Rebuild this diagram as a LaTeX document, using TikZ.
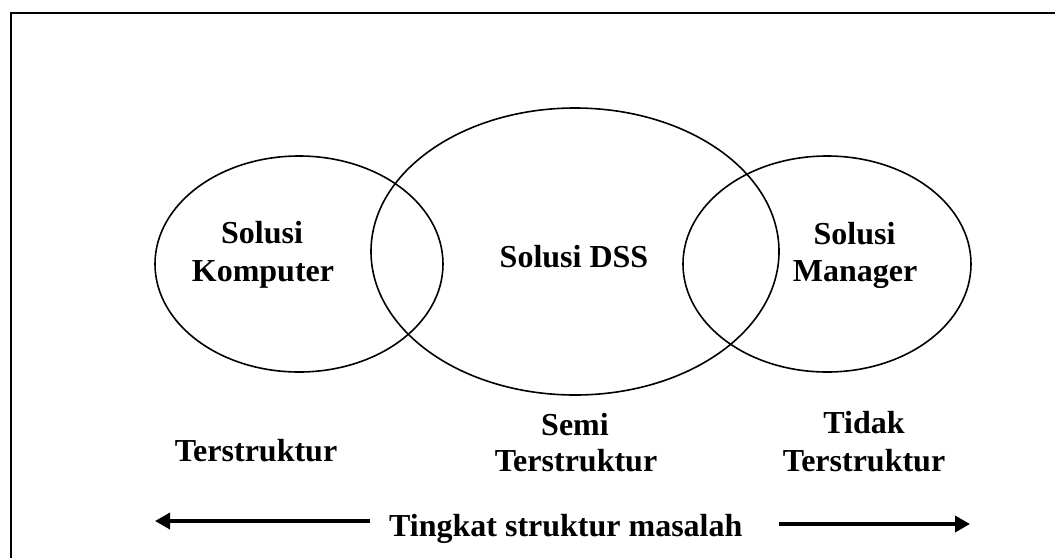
\documentclass[tikz,border=0pt]{standalone}
\usepackage{fontspec}
\setmainfont{Liberation Serif}
\usetikzlibrary{shapes.geometric,arrows.meta}
\begin{document}
\begin{tikzpicture}[x=1pt,y=-1pt,
  oval/.style={draw,ellipse,line width=1.6pt,inner sep=0pt},
  lbl/.style={font=\bfseries\fontsize{32}{38.4}\selectfont,inner sep=0pt,anchor=base},
  bigarrow/.style={line width=3.5pt,-{Triangle[length=15pt,width=16pt]}}]
\useasboundingbox (0,0) rectangle (1055,558);
\coordinate (fbl) at (11,558);
\coordinate (ftl) at (11,13);
\coordinate (ftr) at (1055,13);
\draw[line width=2pt] (fbl) -- (ftl) -- (ftr);
% ellipses
\node[oval,minimum width=288pt,minimum height=216pt] (komp) at (299,264) {};
\node[oval,minimum width=408pt,minimum height=287pt] (dss) at (575,251.5) {};
\node[oval,minimum width=288pt,minimum height=216pt] (man) at (827,264) {};
% labels inside
\node[lbl] (k1) at (262,243) {Solusi};
\node[lbl] (k2) at (263,281.7) {Komputer};
\node[lbl] (d1) at (574,267.7) {Solusi DSS};
\node[lbl] (m1) at (854.5,244) {Solusi};
\node[lbl] (m2) at (855,281.7) {Manager};
% labels below
\node[lbl] (t1) at (256,461.7) {Terstruktur};
\node[lbl] (s1) at (575,435) {Semi};
\node[lbl] (s2) at (576,471.7) {Terstruktur};
\node[lbl] (n1) at (864,433) {Tidak};
\node[lbl] (n2) at (864,471.7) {Terstruktur};
% axis
\node[lbl,anchor=base west] (axis) at (389,536.7) {Tingkat struktur masalah};
\coordinate (la) at (370,521);
\coordinate (lb) at (155,521);
\coordinate (ra) at (779,524);
\coordinate (rb) at (970,524);
\draw[bigarrow] (la) -- (lb);
\draw[bigarrow] (ra) -- (rb);
\end{tikzpicture}
\end{document}
